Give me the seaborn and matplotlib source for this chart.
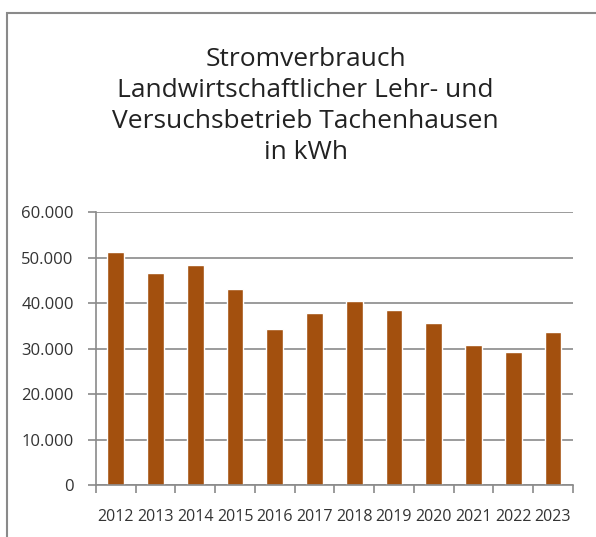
import matplotlib
matplotlib.use("Agg")
import matplotlib.pyplot as plt
import matplotlib.ticker as mticker
import seaborn as sns
import pandas as pd
from matplotlib.patches import Rectangle

# Stromverbrauch in kWh
years = ['2012', '2013', '2014', '2015', '2016', '2017',
         '2018', '2019', '2020', '2021', '2022', '2023']
kwh = [51300, 46500, 48400, 43000, 34300, 37900,
       40500, 38500, 35700, 30800, 29200, 33700]
y_ticks = [0, 10000, 20000, 30000, 40000, 50000, 60000]

df = pd.DataFrame({'Jahr': years, 'kWh': kwh})

sns.set_style('white')
plt.rcParams['font.family'] = ['Open Sans', 'DejaVu Sans']

grey = '#8a8a8a'
fig = plt.figure(figsize=(5.96, 5.37), dpi=100)
ax = fig.add_axes([0.161, 0.0968, 0.800, 0.5084])

sns.barplot(data=df, x='Jahr', y='kWh', color='#a3500e', saturation=1,
            width=0.42, ax=ax, zorder=3)

ax.set_ylim(0, 60000)
ax.set_xlim(-0.5, len(years) - 0.5)
ax.set_yticks(y_ticks)
ax.yaxis.set_major_formatter(mticker.FuncFormatter(
    lambda v, p: f'{int(v):,}'.replace(',', '.')))
ax.grid(axis='y', color=grey, linewidth=1.2, zorder=0)
ax.set_axisbelow(True)

for s in ['top', 'right']:
    ax.spines[s].set_visible(False)
for s in ['left', 'bottom']:
    ax.spines[s].set_color(grey)
    ax.spines[s].set_linewidth(1.2)
    ax.spines[s].set_zorder(4)

ax.set_xticks([i - 0.5 for i in range(len(years) + 1)], minor=True)
ax.tick_params(axis='x', which='minor', length=6, width=1.2, color=grey,
               direction='out', bottom=True)
ax.tick_params(axis='x', which='major', length=0, pad=17, labelsize=11.5,
               labelcolor='#333333')
ax.tick_params(axis='y', length=6, width=1.2, color=grey, direction='out',
               left=True, pad=10, labelsize=12, labelcolor='#333333')
ax.set_xlabel('')
ax.set_ylabel('')

fig.text(0.513, 0.803,
         'Stromverbrauch\nLandwirtschaftlicher Lehr- und\n'
         'Versuchsbetrieb Tachenhausen\nin kWh',
         ha='center', va='center', fontsize=19, linespacing=1.32,
         color='#222222')

fig.patches.append(Rectangle((7 / 596, -0.1), 1.2, 1.1 - 13 / 537,
                             transform=fig.transFigure, fill=False,
                             edgecolor=grey, linewidth=1.5))

fig.savefig('out.png', dpi=100)
